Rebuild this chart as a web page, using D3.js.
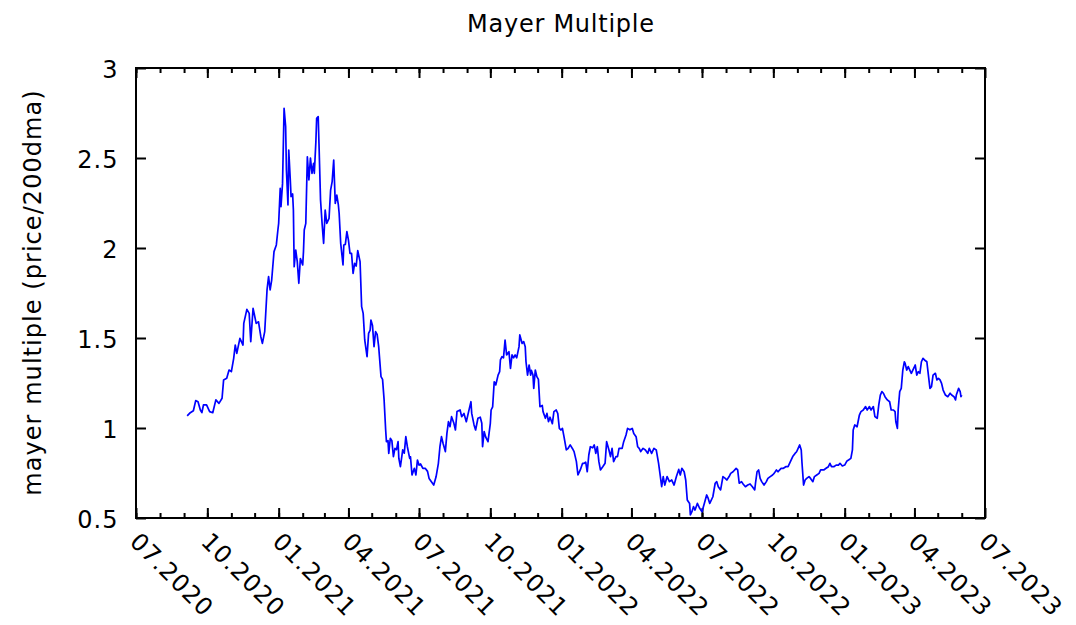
<!DOCTYPE html>
<html>
<head>
<meta charset="utf-8">
<script src="https://cdn.jsdelivr.net/npm/d3@7"></script>
<style>
  body { margin: 0; background: #fff; }
  svg text { font-family: "DejaVu Sans", sans-serif; font-size: 24px; fill: #000; letter-spacing: 1px; }
</style>
</head>
<body>
<svg id="chart" width="1076" height="625"></svg>
<script>
const title = "Mayer Multiple";
const yLabel = "mayer multiple (price/200dma)";
const yTicks = [0.5, 1, 1.5, 2, 2.5, 3];
const xTickLabels = ["07.2020", "10.2020", "01.2021", "04.2021", "07.2021", "10.2021", "01.2022",
  "04.2022", "07.2022", "10.2022", "01.2023", "04.2023", "07.2023"];

// values, roughly every 2-3 days
const dates = [
  "2020-09-05","2020-09-09","2020-09-13","2020-09-16","2020-09-19","2020-09-22","2020-09-24","2020-09-26","2020-09-30",
  "2020-10-04","2020-10-08","2020-10-12","2020-10-16","2020-10-20","2020-10-22","2020-10-26","2020-10-29",
  "2020-11-01","2020-11-04","2020-11-06","2020-11-08","2020-11-12","2020-11-16","2020-11-17","2020-11-21","2020-11-24","2020-11-26","2020-11-29",
  "2020-12-03","2020-12-06","2020-12-09","2020-12-11","2020-12-14","2020-12-17","2020-12-19","2020-12-21","2020-12-23","2020-12-26","2020-12-29","2020-12-31",
  "2021-01-01","2021-01-03","2021-01-04","2021-01-06","2021-01-08","2021-01-10","2021-01-11","2021-01-13","2021-01-14","2021-01-16","2021-01-17","2021-01-19","2021-01-20","2021-01-21","2021-01-23","2021-01-25","2021-01-27","2021-01-29",
  "2021-02-01","2021-02-02","2021-02-03","2021-02-05","2021-02-07","2021-02-09","2021-02-11","2021-02-13","2021-02-15","2021-02-16","2021-02-18","2021-02-19","2021-02-21","2021-02-22","2021-02-24","2021-02-26","2021-02-28",
  "2021-03-02","2021-03-04","2021-03-07","2021-03-09","2021-03-11","2021-03-13","2021-03-15","2021-03-17","2021-03-19","2021-03-20","2021-03-22","2021-03-25","2021-03-26","2021-03-28","2021-03-30",
  "2021-04-01","2021-04-03","2021-04-05","2021-04-07","2021-04-09","2021-04-11","2021-04-13","2021-04-16","2021-04-18","2021-04-20","2021-04-22","2021-04-25","2021-04-27","2021-04-29","2021-04-30",
  "2021-05-02","2021-05-04","2021-05-06","2021-05-08","2021-05-10","2021-05-13","2021-05-15","2021-05-17","2021-05-19","2021-05-20","2021-05-22","2021-05-23","2021-05-25","2021-05-27","2021-05-29","2021-05-31",
  "2021-06-02","2021-06-04","2021-06-05","2021-06-07","2021-06-10","2021-06-12","2021-06-14","2021-06-16","2021-06-19","2021-06-20","2021-06-22","2021-06-25","2021-06-27","2021-06-29",
  "2021-07-01","2021-07-03","2021-07-06","2021-07-09","2021-07-12","2021-07-14","2021-07-20","2021-07-23","2021-07-26","2021-07-28","2021-07-30",
  "2021-08-01","2021-08-04","2021-08-06","2021-08-08","2021-08-10","2021-08-12","2021-08-15","2021-08-17","2021-08-19","2021-08-23","2021-08-25","2021-08-28","2021-08-31",
  "2021-09-03","2021-09-06","2021-09-07","2021-09-10","2021-09-12","2021-09-15","2021-09-18","2021-09-20","2021-09-21","2021-09-23","2021-09-25","2021-09-28",
  "2021-10-01","2021-10-02","2021-10-04","2021-10-06","2021-10-08","2021-10-11","2021-10-13","2021-10-14","2021-10-16","2021-10-18","2021-10-20","2021-10-22","2021-10-25","2021-10-27","2021-10-29","2021-10-31",
  "2021-11-02","2021-11-04","2021-11-07","2021-11-08","2021-11-11","2021-11-13","2021-11-15","2021-11-16","2021-11-18","2021-11-20","2021-11-22","2021-11-23","2021-11-25","2021-11-26","2021-11-28","2021-11-30",
  "2021-12-02","2021-12-04","2021-12-07","2021-12-08","2021-12-11","2021-12-13","2021-12-15","2021-12-17","2021-12-20","2021-12-22","2021-12-25","2021-12-27","2021-12-29","2021-12-31",
  "2022-01-02","2022-01-04","2022-01-07","2022-01-09","2022-01-12","2022-01-15","2022-01-17","2022-01-20","2022-01-22","2022-01-25","2022-01-28","2022-01-30",
  "2022-02-01","2022-02-03","2022-02-05","2022-02-07","2022-02-10","2022-02-12","2022-02-14","2022-02-16","2022-02-18","2022-02-20","2022-02-23","2022-02-26","2022-02-28",
  "2022-03-03","2022-03-05","2022-03-07","2022-03-09","2022-03-12","2022-03-14","2022-03-16","2022-03-20","2022-03-22","2022-03-25","2022-03-27","2022-03-30",
  "2022-04-02","2022-04-04","2022-04-07","2022-04-09","2022-04-11","2022-04-13","2022-04-16","2022-04-19","2022-04-22","2022-04-24","2022-04-27","2022-04-30",
  "2022-05-03","2022-05-06","2022-05-08","2022-05-10","2022-05-12","2022-05-14","2022-05-17","2022-05-20","2022-05-23","2022-05-26","2022-05-29",
  "2022-06-01","2022-06-03","2022-06-05","2022-06-08","2022-06-10","2022-06-12","2022-06-15","2022-06-16","2022-06-18","2022-06-20","2022-06-22","2022-06-25","2022-06-28",
  "2022-07-01","2022-07-04","2022-07-07","2022-07-09","2022-07-11","2022-07-15","2022-07-18","2022-07-20","2022-07-22","2022-07-25","2022-07-28","2022-07-31",
  "2022-08-02","2022-08-05","2022-08-07","2022-08-10","2022-08-14","2022-08-16","2022-08-18","2022-08-21","2022-08-23","2022-08-26","2022-08-29",
  "2022-09-01","2022-09-04","2022-09-07","2022-09-08","2022-09-10","2022-09-12","2022-09-14","2022-09-16","2022-09-19","2022-09-22","2022-09-24","2022-09-27","2022-09-30",
  "2022-10-02","2022-10-05","2022-10-07","2022-10-11","2022-10-14","2022-10-17","2022-10-20","2022-10-23","2022-10-26","2022-10-29","2022-10-31",
  "2022-11-02","2022-11-04","2022-11-06","2022-11-07","2022-11-09","2022-11-11","2022-11-13","2022-11-16","2022-11-18","2022-11-21","2022-11-23","2022-11-26","2022-11-29",
  "2022-12-01","2022-12-05","2022-12-08","2022-12-11","2022-12-13","2022-12-15","2022-12-18","2022-12-21","2022-12-24","2022-12-26","2022-12-29",
  "2023-01-01","2023-01-04","2023-01-06","2023-01-09","2023-01-11","2023-01-12","2023-01-14","2023-01-17","2023-01-20","2023-01-22","2023-01-25","2023-01-28","2023-01-30",
  "2023-02-02","2023-02-04","2023-02-07","2023-02-09","2023-02-12","2023-02-14","2023-02-16","2023-02-18","2023-02-20","2023-02-22","2023-02-25","2023-02-28",
  "2023-03-02","2023-03-05","2023-03-07","2023-03-08","2023-03-10","2023-03-11","2023-03-13","2023-03-15","2023-03-17","2023-03-19","2023-03-20","2023-03-22","2023-03-24","2023-03-26","2023-03-28","2023-03-31",
  "2023-04-02","2023-04-04","2023-04-06","2023-04-08","2023-04-10","2023-04-12","2023-04-14","2023-04-17","2023-04-19","2023-04-21","2023-04-23","2023-04-25","2023-04-28","2023-04-30",
  "2023-05-02","2023-05-04","2023-05-06","2023-05-08","2023-05-11","2023-05-14","2023-05-17","2023-05-19","2023-05-22","2023-05-24","2023-05-25","2023-05-28","2023-05-30","2023-05-31",
  "2023-06-01"
];
const mayer = [
  1.067,1.085,1.096,1.152,1.146,1.100,1.085,1.128,1.128,
  1.091,1.085,1.156,1.137,1.165,1.267,1.276,1.322,
  1.313,1.387,1.461,1.415,1.498,1.461,1.581,1.659,1.637,1.480,1.665,
  1.581,1.590,1.507,1.470,1.535,1.767,1.841,1.767,1.822,1.980,2.017,2.100,
  2.137,2.331,2.230,2.359,2.776,2.674,2.433,2.239,2.544,2.378,2.285,2.300,2.211,1.896,1.989,1.924,1.804,1.941,
  1.906,1.980,2.100,2.137,2.507,2.378,2.500,2.415,2.470,2.415,2.591,2.720,2.730,2.581,2.267,2.137,2.026,
  2.211,2.137,2.165,2.322,2.369,2.489,2.248,2.294,2.239,2.193,2.026,1.906,2.017,2.020,2.091,
  2.044,1.970,1.970,1.859,1.915,1.900,1.985,1.924,1.674,1.637,1.489,1.396,1.526,1.544,1.600,
  1.570,1.452,1.535,1.520,1.452,1.285,1.270,1.156,0.989,0.924,0.930,0.859,0.943,0.930,0.841,0.887,
  0.880,0.924,0.831,0.785,0.878,0.860,0.952,0.896,0.831,0.840,0.739,0.776,0.739,0.822,
  0.794,0.800,0.776,0.776,0.759,0.720,0.683,0.729,0.804,0.896,0.952,
  0.915,0.869,0.970,1.035,1.007,1.063,1.026,0.989,1.091,1.100,1.063,1.081,1.035,
  1.091,1.146,1.081,1.017,0.989,1.054,1.060,1.026,0.896,0.980,0.950,0.924,
  1.026,1.100,1.118,1.257,1.239,1.294,1.313,1.378,1.396,1.390,1.489,1.406,1.424,1.331,1.406,1.390,
  1.406,1.390,1.452,1.517,1.470,1.480,1.452,1.368,1.294,1.350,1.294,1.320,1.294,1.220,1.322,1.285,
  1.270,1.118,1.125,1.091,1.054,1.081,1.035,1.060,1.024,1.091,1.100,1.080,0.998,0.989,
  0.998,0.952,0.878,0.885,0.906,0.885,0.869,0.813,0.739,0.767,0.804,0.804,
  0.810,0.757,0.850,0.896,0.890,0.906,0.859,0.896,0.813,0.767,0.785,0.804,0.924,
  0.878,0.841,0.887,0.813,0.841,0.841,0.887,0.887,0.924,0.961,0.998,0.990,
  0.998,0.970,0.952,0.896,0.887,0.869,0.887,0.878,0.859,0.887,0.859,0.887,
  0.878,0.804,0.739,0.674,0.730,0.683,0.730,0.702,0.711,0.683,0.730,
  0.770,0.739,0.776,0.757,0.711,0.600,0.581,0.517,0.535,0.563,0.544,0.581,0.554,
  0.535,0.581,0.628,0.609,0.581,0.618,0.693,0.702,0.674,0.656,0.730,0.720,
  0.711,0.730,0.748,0.757,0.776,0.767,0.693,0.702,0.689,0.674,0.683,
  0.689,0.674,0.656,0.693,0.757,0.767,0.720,0.702,0.683,0.702,0.720,0.730,0.739,
  0.748,0.767,0.757,0.776,0.776,0.785,0.785,0.813,0.841,0.859,0.868,
  0.887,0.906,0.878,0.804,0.683,0.711,0.720,0.730,0.720,0.702,0.730,0.739,0.748,
  0.767,0.767,0.776,0.785,0.804,0.785,0.785,0.794,0.794,0.804,0.789,
  0.794,0.817,0.822,0.831,0.878,0.989,1.017,1.007,1.072,1.091,1.100,1.119,1.100,
  1.119,1.100,1.119,1.063,1.054,1.128,1.183,1.202,1.193,1.174,1.156,1.146,
  1.100,1.100,1.091,1.035,0.998,1.100,1.202,1.220,1.322,1.368,1.359,1.322,1.341,1.322,1.304,1.331,
  1.350,1.294,1.313,1.304,1.368,1.387,1.378,1.368,1.294,1.220,1.230,1.294,1.304,1.267,
  1.276,1.267,1.248,1.211,1.183,1.174,1.193,1.183,1.174,1.156,1.183,1.220,1.202,1.174,
  1.183
];

const svg = d3.select("#chart");
const plotLeft = 136, plotRight = 985, plotTop = 68, plotBottom = 518;

const parseDay = d3.timeParse("%Y-%m-%d");
const parseMonth = d3.timeParse("%m.%Y");
const points = dates.map((d, i) => ({date: parseDay(d), value: mayer[i]}));
const majorDates = xTickLabels.map(parseMonth);

const x = d3.scaleTime()
  .domain([majorDates[0], majorDates[majorDates.length - 1]])
  .range([plotLeft, plotRight]);
const y = d3.scaleLinear()
  .domain([yTicks[0], yTicks[yTicks.length - 1]])
  .range([plotBottom, plotTop]);

const minorDates = d3.timeMonth.range(x.domain()[0], x.domain()[1]);

function styleTicks(g) {
  g.select(".domain").remove();
  g.selectAll(".tick line").attr("stroke", "#000").attr("stroke-width", 2);
}

// minor (monthly) ticks, bottom and top
svg.append("g").attr("transform", `translate(0,${plotBottom})`)
  .call(d3.axisBottom(x).tickValues(minorDates).tickSize(-5).tickFormat(""))
  .call(styleTicks);
svg.append("g").attr("transform", `translate(0,${plotTop})`)
  .call(d3.axisTop(x).tickValues(minorDates).tickSize(-5).tickFormat(""))
  .call(styleTicks);

// major ticks with rotated labels
const xAxis = svg.append("g").attr("transform", `translate(0,${plotBottom})`)
  .call(d3.axisBottom(x).tickValues(majorDates).tickSize(-10).tickFormat(d3.timeFormat("%m.%Y")))
  .call(styleTicks);
xAxis.attr("font-size", null).attr("font-family", null);
xAxis.selectAll(".tick text")
  .attr("x", 0).attr("y", 0).attr("dy", null)
  .attr("text-anchor", "start")
  .attr("transform", "translate(-8,25) rotate(45)")
  .attr("fill", "#000");
svg.append("g").attr("transform", `translate(0,${plotTop})`)
  .call(d3.axisTop(x).tickValues(majorDates).tickSize(-10).tickFormat(""))
  .call(styleTicks);

// y ticks, left with labels and mirrored on the right
const yAxis = svg.append("g").attr("transform", `translate(${plotLeft},0)`)
  .call(d3.axisLeft(y).tickValues(yTicks).tickSize(-10).tickFormat(d3.format("~g")))
  .call(styleTicks);
yAxis.attr("font-size", null).attr("font-family", null);
yAxis.selectAll(".tick text")
  .attr("x", -17.5).attr("dy", "0.38em")
  .attr("fill", "#000");
svg.append("g").attr("transform", `translate(${plotRight},0)`)
  .call(d3.axisRight(y).tickValues(yTicks).tickSize(-10).tickFormat(""))
  .call(styleTicks);

// plot border
svg.append("rect")
  .attr("x", plotLeft).attr("y", plotTop)
  .attr("width", plotRight - plotLeft).attr("height", plotBottom - plotTop)
  .attr("fill", "none").attr("stroke", "#000").attr("stroke-width", 2);

// data line
const line = d3.line()
  .x(d => x(d.date))
  .y(d => y(d.value));

svg.append("path")
  .datum(points)
  .attr("d", line)
  .attr("fill", "none")
  .attr("stroke", "#0000ff")
  .attr("stroke-width", 1.7)
  .attr("stroke-linejoin", "round");

// title and y label
svg.append("text")
  .attr("x", (plotLeft + plotRight) / 2 + 0.4).attr("y", 31.5)
  .attr("text-anchor", "middle")
  .style("letter-spacing", "0.75px")
  .text(title);

svg.append("text")
  .attr("transform", `translate(40.5,${(plotTop + plotBottom) / 2 - 0.5}) rotate(-90)`)
  .attr("text-anchor", "middle")
  .style("letter-spacing", "1.05px")
  .text(yLabel);
</script>
</body>
</html>
